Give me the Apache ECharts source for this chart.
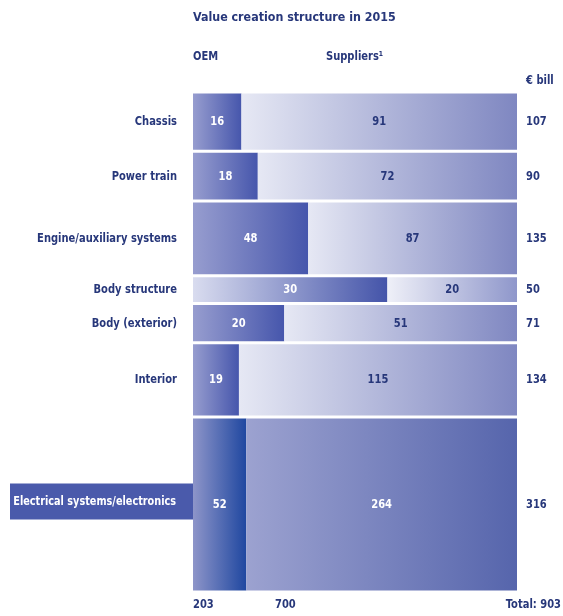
<!DOCTYPE html>
<html>
<head>
<meta charset="utf-8">
<script src="https://cdn.jsdelivr.net/npm/echarts@6/dist/echarts.min.js"></script>
<style>
  html, body { margin: 0; padding: 0; background: #ffffff; }
  #chart { width: 563px; height: 616px; }
</style>
</head>
<body>
<div id="chart"></div>
<script>
// Value creation by vehicle module, 2015 (€ bill)
const categories = [
  'Chassis',
  'Power train',
  'Engine/auxiliary systems',
  'Body structure',
  'Body (exterior)',
  'Interior',
  'Electrical systems/electronics'
];
const oemValues = [16, 18, 48, 30, 20, 19, 52];
const supplierValues = [91, 72, 87, 20, 51, 115, 264];
const highlightedRow = 'Electrical systems/electronics';
const lightRow = 'Body structure';

const rowTotals = oemValues.map((v, i) => v + supplierValues[i]);
const oemSum = oemValues.reduce((a, b) => a + b, 0);
const supplierSum = supplierValues.reduce((a, b) => a + b, 0);
const grandTotal = oemSum + supplierSum;

// Each row: [start on the stacked scale, OEM, suppliers, index]
const rows = [];
let cursor = 0;
categories.forEach((c, i) => {
  rows.push([cursor, oemValues[i], supplierValues[i], i]);
  cursor += rowTotals[i];
});

const NAVY = '#27377a';
const FONT = '"Liberation Sans Narrow","DejaVu Sans Condensed",sans-serif';
const SQUEEZE = 0.85;

function grad(c0, c1) {
  return { type: 'linear', x: 0, y: 0, x2: 1, y2: 0,
    colorStops: [{ offset: 0, color: c0 }, { offset: 1, color: c1 }] };
}

// condensed text element anchored at (x, y)
function label(text, x, y, align, fill, size, squeeze) {
  return { type: 'text', x: x, y: y, scaleX: squeeze || SQUEEZE,
    style: { text: text, x: 0, y: 0, align: align, verticalAlign: 'middle',
      fill: fill, font: 'bold ' + (size || 13) + 'px ' + FONT } };
}

const palettes = {
  normal: {
    oem: grad('#979dcf', '#4656ac'),
    sup: grad('#e6e8f4', '#7f87c1'),
    oemText: '#ffffff', supText: NAVY
  },
  light: {
    oem: grad('#d9dcef', '#4454a9'),
    sup: grad('#eff0f8', '#8f97cb'),
    oemText: '#ffffff', supText: NAVY
  },
  strong: {
    oem: grad('#8e95c9', '#1f47a0'),
    sup: grad('#9ca2d0', '#5665ac'),
    oemText: '#ffffff', supText: '#ffffff'
  }
};

function renderRow(params, api) {
  const start = api.value(0);
  const oem = api.value(1);
  const sup = api.value(2);
  const idx = api.value(3);
  const total = oem + sup;
  const name = categories[idx];
  const pal = name === highlightedRow ? palettes.strong
            : name === lightRow ? palettes.light : palettes.normal;

  const pTop = api.coord([0, start]);
  const pBot = api.coord([100, start + total]);
  const pSplit = api.coord([oem / total * 100, start]);
  const x0 = pTop[0], x1 = pBot[0], xs = pSplit[0];
  const y0 = pTop[1] + 1.5, y1 = pBot[1] - 1.5;
  const h = y1 - y0;
  const ym = (y0 + y1) / 2;

  const children = [
    { type: 'rect', shape: { x: x0, y: y0, width: xs - x0, height: h },
      style: { fill: pal.oem } },
    { type: 'rect', shape: { x: xs, y: y0, width: x1 - xs, height: h },
      style: { fill: pal.sup } },
    label(String(oem), (x0 + xs) / 2, ym, 'center', pal.oemText),
    label(String(sup), (xs + x1) / 2, ym, 'center', pal.supText),
    label(String(total), x1 + 9, ym, 'left', NAVY)
  ];

  if (name === highlightedRow) {
    children.push({ type: 'rect',
      shape: { x: 10, y: ym - 21, width: x0 - 10, height: 36 },
      style: { fill: '#4a5aab' } });
    children.push(label(name, x0 - 17, ym - 3, 'right', '#ffffff', 13, 0.83));
  } else {
    children.push(label(name, x0 - 16, ym, 'right', NAVY));
  }
  return { type: 'group', children };
}

const chart = echarts.init(document.getElementById('chart'), null, { renderer: 'canvas' });
chart.setOption({
  animation: false,
  backgroundColor: '#ffffff',
  grid: { left: 193, right: 46, top: 92, bottom: 24 },
  xAxis: { type: 'value', min: 0, max: 100, show: false },
  yAxis: { type: 'value', min: 0, max: grandTotal, inverse: true, show: false },
  graphic: [
    label('Value creation structure in 2015', 193, 18, 'left', NAVY, 13, 0.95),
    label('OEM', 193, 57, 'left', NAVY),
    label('Suppliers¹', 326, 57, 'left', NAVY),
    label('€ bill', 526, 81, 'left', NAVY),
    label(String(oemSum), 193, 605, 'left', NAVY),
    label(String(supplierSum), 275, 605, 'left', NAVY),
    label('Total: ' + grandTotal, 561, 605, 'right', NAVY)
  ],
  series: [{
    type: 'custom',
    renderItem: renderRow,
    data: rows,
    clip: false
  }]
});
</script>
</body>
</html>
